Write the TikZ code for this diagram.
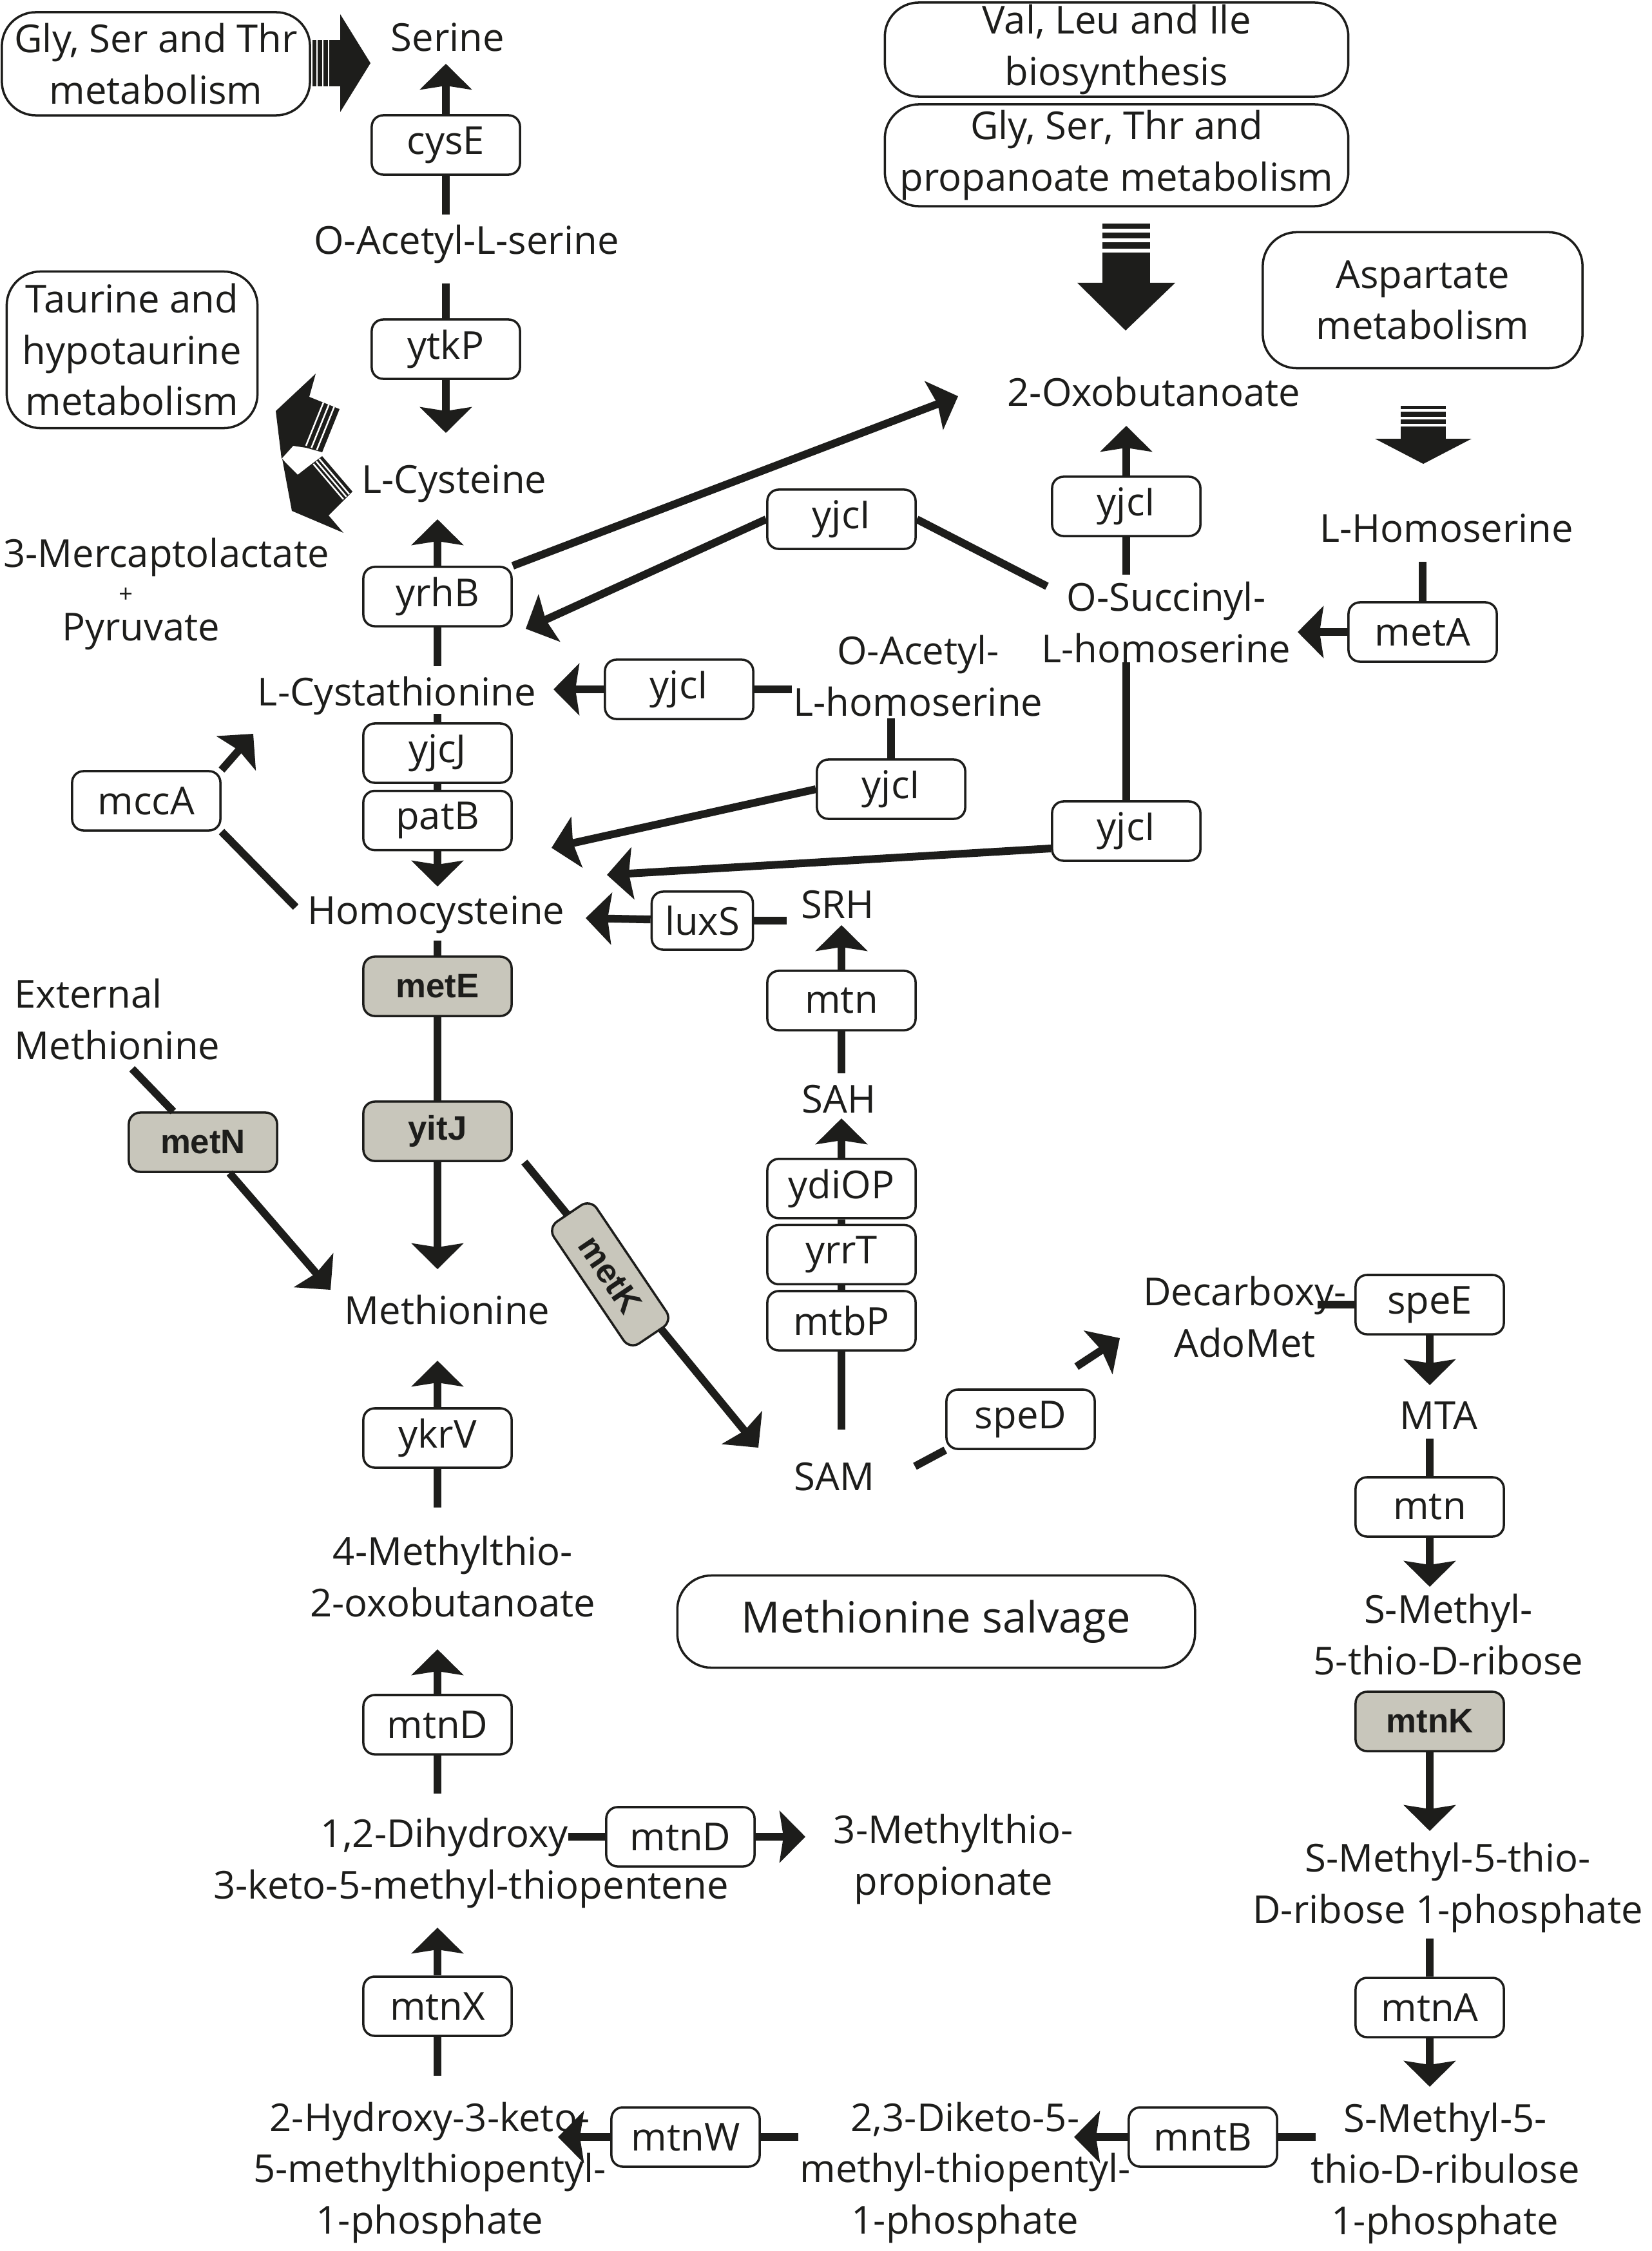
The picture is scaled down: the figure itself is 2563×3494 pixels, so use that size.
\documentclass[tikz,border=0pt]{standalone}
\usepackage{fontspec}
\setmainfont{Open Sans}
\newfontfamily\genefont{Liberation Sans}
\usetikzlibrary{positioning,arrows.meta}
\definecolor{ink}{RGB}{29,29,27}
\definecolor{genegray}{RGB}{200,198,187}

\begin{document}
\begin{tikzpicture}[
  x=0.01cm, y=-0.01cm,
  font=\fontsize{17}{22.6}\selectfont, text=ink,
  gene/.style={draw=ink, line width=1pt, rounded corners=5pt, fill=white, inner sep=0pt, minimum width=2.3cm, minimum height=0.92cm},
  ggene/.style={gene, fill=genegray, font=\genefont\bfseries\fontsize{15}{18}\selectfont},
  cpd/.style={align=center, inner sep=0pt},
  grp/.style={draw=ink, line width=1pt, rounded corners=15pt, align=center, inner sep=0pt},
  link/.style={draw=ink, line width=0.12cm},
  flow/.style={link, -{Stealth[length=0.4cm, width=0.8cm, inset=0.06cm]}},
  stripe/.style={draw=white, line width=0.025cm}
]
\useasboundingbox (0,0) rectangle (2563,3494);

\node[grp, minimum width=4.78cm, minimum height=1.6cm] (glyser) at (242,99) {Gly, Ser and Thr\\metabolism};
\node[grp, minimum width=3.89cm, minimum height=2.43cm] (taurine) at (205,543) {Taurine and\\hypotaurine\\metabolism};
\node[grp, minimum width=7.19cm, minimum height=1.46cm] (valleu) at (1733,77) {Val, Leu and Ile\\biosynthesis};
\node[grp, minimum width=7.19cm, minimum height=1.58cm] (glyprop) at (1733,241) {Gly, Ser, Thr and\\propanoate metabolism};
\node[grp, minimum width=4.96cm, minimum height=2.11cm] (aspart) at (2208,466) {Aspartate\\metabolism};
\node[grp, minimum width=8.03cm, minimum height=1.43cm, font=\fontsize{19}{23}\selectfont] (salvage) at (1453,2517) {Methionine salvage};

\node[cpd] (serine) at (695,58) {Serine};
\node[cpd] (oacser) at (724,379) {O-Acetyl-L-serine};
\node[cpd] (lcys) at (705,751) {L-Cysteine};
\node[cpd] (merc) at (258,865) {3-Mercaptolactate};
\node[cpd, font=\fontsize{11}{13}\selectfont] (plus) at (196,924) {+};
\node[cpd] (pyr) at (219,980) {Pyruvate};
\node[cpd] (lcysta) at (616,1080) {L-Cystathionine};
\node[cpd] (homocys) at (677,1420) {Homocysteine};
\node[cpd, anchor=west, align=left] (extmet) at (22,1582) {External\\Methionine};
\node[cpd] (methio) at (694,2033) {Methionine};
\node[cpd] (mtob) at (703,2447) {4-Methylthio-\\2-oxobutanoate};
\node[cpd] (dihy) at (731,2892) {\hspace*{-0.82cm}1,2-Dihydroxy\\3-keto-5-methyl-thiopentene};
\node[cpd] (mtprop) at (1480,2886) {3-Methylthio-\\propionate};
\node[cpd] (hkmp) at (667,3372) {2-Hydroxy-3-keto-\\5-methylthiopentyl-\\1-phosphate};
\node[cpd] (dkmp) at (1498,3372) {2,3-Diketo-5-\\methyl-thiopentyl-\\1-phosphate};
\node[cpd] (mtrup) at (2243,3373) {S-Methyl-5-\\thio-D-ribulose\\1-phosphate};
\node[cpd] (mtrp) at (2247,2930) {S-Methyl-5-thio-\\D-ribose 1-phosphate};
\node[cpd] (mtr) at (2248,2537) {S-Methyl-\\5-thio-D-ribose};
\node[cpd] (mta) at (2233,2197) {MTA};
\node[cpd] (dcam) at (1932,2044) {Decarboxy-\\AdoMet};
\node[cpd] (sam) at (1295,2292) {SAM};
\node[cpd] (sah) at (1302,1706) {SAH};
\node[cpd] (srh) at (1300,1404) {SRH};
\node[cpd] (oxob) at (1791,608) {2-Oxobutanoate};
\node[cpd] (lhom) at (2245,820) {L-Homoserine};
\node[cpd] (osuc) at (1810,966) {O-Succinyl-\\L-homoserine};
\node[cpd] (oahs) at (1425,1049) {O-Acetyl-\\L-homoserine};

\node[gene] (cysE) at (692,225) {cysE};
\node[gene] (ytkP) at (692,542) {ytkP};
\node[gene] (yrhB) at (679,926) {yrhB};
\node[gene] (yjcJ) at (679,1169) {yjcJ};
\node[gene, below=0.09cm of yjcJ] (patB) {patB};
\node[gene] (mccA) at (227,1243) {mccA};
\node[ggene] (metE) at (679,1531) {metE};
\node[ggene] (yitJ) at (679,1756) {yitJ};
\node[ggene] (metN) at (315,1773) {metN};
\node[gene] (ykrV) at (679,2232) {ykrV};
\node[gene] (mtnDa) at (679,2677) {mtnD};
\node[gene] (mtnX) at (679,3114) {mtnX};
\node[gene] (mtnDb) at (1056,2851) {mtnD};
\node[gene] (mtnW) at (1064,3317) {mtnW};
\node[gene] (mntB) at (1867,3317) {mntB};
\node[gene] (mtnA) at (2219,3116) {mtnA};
\node[ggene] (mtnK) at (2219,2672) {mtnK};
\node[gene] (mtnR) at (2219,2339) {mtn};
\node[gene] (speE) at (2219,2025) {speE};
\node[gene] (speD) at (1584,2203) {speD};
\node[gene] (mtbP) at (1306,2050) {mtbP};
\node[gene, above=0.07cm of mtbP] (yrrT) {yrrT};
\node[gene, above=0.07cm of yrrT] (ydiOP) {ydiOP};
\node[gene] (mtnM) at (1306,1553) {mtn};
\node[gene, minimum width=1.57cm, minimum height=0.9cm] (luxS) at (1090,1429) {luxS};
\node[gene] (yjcIa) at (1306,806) {yjcI};
\node[gene] (yjcIb) at (1748,786) {yjcI};
\node[gene] (yjcIc) at (1054,1070) {yjcI};
\node[gene] (yjcId) at (1383,1225) {yjcI};
\node[gene] (yjcIe) at (1748,1290) {yjcI};
\node[gene] (metA) at (2208,981) {metA};

\coordinate (serS) at (692,99);
\coordinate (oasN) at (692,333);
\coordinate (oasS) at (692,440);
\coordinate (cysN) at (692,672);
\coordinate (cysS) at (679,806);
\coordinate (ctaN) at (679,1034);
\coordinate (ctaS) at (679,1108);
\coordinate (hcyN) at (679,1376);
\coordinate (hcyS) at (679,1460);
\coordinate (metTop) at (679,1970);
\coordinate (metBot) at (679,2112);
\coordinate (mtobN) at (679,2340);
\coordinate (mtobS) at (679,2560);
\coordinate (dihN) at (679,2784);
\coordinate (dihS) at (679,2992);
\coordinate (hkmN) at (679,3222);
\draw[flow] (cysE) -- (serS);
\draw[link] (oasN) -- (cysE);
\draw[link] (oasS) -- (ytkP);
\draw[flow] (ytkP) -- (cysN);
\draw[flow] (yrhB) -- (cysS);
\draw[link] (ctaN) -- (yrhB);
\draw[link] (ctaS) -- (yjcJ);
\draw[link] (yjcJ) -- (patB);
\draw[flow] (patB) -- (hcyN);
\draw[link] (hcyS) -- (metE);
\draw[link] (metE) -- (yitJ);
\draw[flow] (yitJ) -- (metTop);
\draw[flow] (ykrV) -- (metBot);
\draw[link] (mtobN) -- (ykrV);
\draw[flow] (mtnDa) -- (mtobS);
\draw[link] (dihN) -- (mtnDa);
\draw[flow] (mtnX) -- (dihS);
\draw[link] (hkmN) -- (mtnX);

\coordinate (srhS) at (1306,1436);
\coordinate (sahN) at (1306,1666);
\coordinate (sahS) at (1306,1736);
\coordinate (samN) at (1306,2219);
\draw[flow] (mtnM) -- (srhS);
\draw[link] (sahN) -- (mtnM);
\draw[flow] (ydiOP) -- (sahS);
\draw[link] (ydiOP) -- (yrrT);
\draw[link] (yrrT) -- (mtbP);
\draw[link] (samN) -- (mtbP);

\coordinate (oxoS) at (1748,661);
\coordinate (osuN) at (1748,892);
\coordinate (osuS) at (1748,1028);
\coordinate (lhoS) at (2208,872);
\coordinate (osuE) at (2014,981);
\draw[flow] (yjcIb) -- (oxoS);
\draw[link] (osuN) -- (yjcIb);
\draw[link] (osuS) -- (yjcIe);
\draw[link] (lhoS) -- (metA);
\draw[flow] (metA) -- (osuE);

\coordinate (dcaE) at (2045,2025);
\coordinate (mtaN) at (2219,2150);
\coordinate (mtaS) at (2219,2233);
\coordinate (mtrN) at (2219,2463);
\coordinate (mrpN) at (2219,2842);
\coordinate (mrpS) at (2219,3009);
\coordinate (mruN) at (2219,3239);
\draw[link] (dcaE) -- (speE);
\draw[flow] (speE) -- (mtaN);
\draw[link] (mtaS) -- (mtnR);
\draw[flow] (mtnR) -- (mtrN);
\draw[flow] (mtnK) -- (mrpN);
\draw[link] (mrpS) -- (mtnA);
\draw[flow] (mtnA) -- (mruN);

\coordinate (mruW) at (2042,3317);
\coordinate (dkmE) at (1667,3317);
\coordinate (dkmW) at (1239,3317);
\coordinate (hkmE) at (866,3317);
\draw[link] (mruW) -- (mntB);
\draw[flow] (mntB) -- (dkmE);
\draw[link] (dkmW) -- (mtnW);
\draw[flow] (mtnW) -- (hkmE);

\coordinate (dihE) at (882,2851);
\coordinate (mtpW) at (1250,2851);
\draw[link] (dihE) -- (mtnDb);
\draw[flow] (mtnDb) -- (mtpW);

\coordinate (srhW) at (1221,1429);
\coordinate (hcyE) at (909,1425);
\draw[link] (srhW) -- (luxS);
\draw[flow] (luxS) -- (hcyE);

\coordinate (oahW) at (1229,1070);
\coordinate (ctaE) at (859,1070);
\coordinate (oahS) at (1383,1115);
\coordinate (hcyNE) at (856,1316);
\coordinate (hcyNE2) at (942,1358);
\coordinate (ctaNE) at (816,976);
\coordinate (osuNW) at (1625,910);
\coordinate (oxoSW) at (1487,615);
\draw[link] (oahW) -- (yjcIc);
\draw[flow] (yjcIc) -- (ctaE);
\draw[link] (oahS) -- (yjcId);
\draw[flow] (yjcId.west) -- (hcyNE);
\draw[flow] (yjcIe.193) -- (hcyNE2);
\draw[flow] (yjcIa.west) -- (ctaNE);
\draw[link] (yjcIa.east) -- (osuNW);
\draw[flow] (yrhB.north east) -- (oxoSW);

\coordinate (hcyW) at (459,1408);
\coordinate (ctaSW) at (393,1139);
\coordinate (extS) at (205,1659);
\coordinate (metW) at (513,2002);
\draw[link] (hcyW) -- (mccA.south east);
\draw[flow] (mccA.north east) -- (ctaSW);
\draw[link] (extS) -- (metN);
\draw[flow] (metN) -- (metW);

\coordinate (samNW) at (1177,2247);
\coordinate (samE) at (1420,2276);
\coordinate (dcaSW) at (1738,2077);
\draw[flow] ([xshift=0.18cm]yitJ.south east) -- (samNW);
\draw[link] (samE) -- (speD.south west);
\draw[flow] ([shift={(-30,-34)}]speD.north east) -- (dcaSW);

\fill[ink] (485,62) rectangle (532,134);
\fill[ink] (528,22) -- (575,98) -- (528,174) -- cycle;
\foreach \sx in {492,501,510} \draw[stripe] (\sx,60) -- (\sx,136);

\fill[ink] (1711,347) rectangle (1785,439);
\fill[ink] (1672,439) -- (1824,439) -- (1747,513) -- cycle;
\foreach \sy in {358,373,389} \draw[stripe, line width=0.06cm] (1709,\sy) -- (1787,\sy);

\fill[ink] (2174,630) rectangle (2244,681);
\fill[ink] (2134,681) -- (2284,681) -- (2209,720) -- cycle;
\foreach \sy in {637,649,660} \draw[stripe, line width=0.04cm] (2172,\sy) -- (2246,\sy);

\fill[ink] (490,580) -- (480,616) -- (527,635) -- (500,702) -- (475,695) -- (455,692) -- (437,712) -- (428,638) -- cycle;
\fill[ink] (438,712) -- (443,718) -- (462,737) -- (480,723) -- (500,708) -- (547,763) -- (528,782) -- (510,800) -- (533,827) -- (453,793) -- cycle;
\draw[stripe] (518.6,631.6) -- (491.6,698.6);
\draw[stripe] (510.3,628.3) -- (483.3,695.3);
\draw[stripe] (501.9,624.9) -- (474.9,691.9);
\draw[stripe] (495.4,712.2) -- (542.1,767.2);
\draw[stripe] (490.9,716.1) -- (537.6,771.1);
\draw[stripe] (486.3,720) -- (533,775);

\node[ggene, rotate=-56, minimum width=2.28cm, minimum height=0.8cm] (metK) at (947,1978) {metK};
\end{tikzpicture}
\end{document}
